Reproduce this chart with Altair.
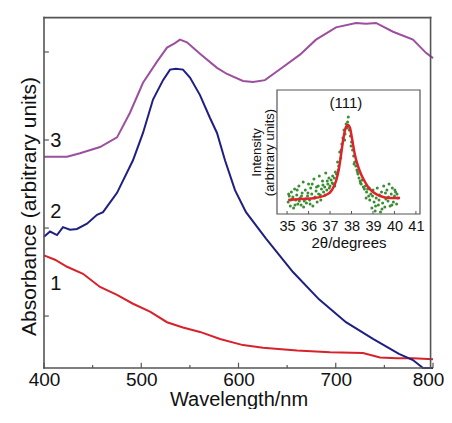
import altair as alt
import pandas as pd

FONT = "Liberation Sans"

# ---------------- main spectra (wavelength in nm, absorbance in arbitrary units) ----------------
wl_1 = [400, 411.3, 423.7, 440.1, 457.6, 475.1, 491.5, 509.0, 526.5, 542.9, 560.4, 581.0, 604.6, 625.2,
        660.2, 694.1, 728.0, 745.5, 763.0, 779.4, 800]
abs_1 = [0.69, 0.64, 0.56, 0.48, 0.33, 0.24, 0.14, 0.05, -0.07, -0.13, -0.18, -0.26, -0.33, -0.36,
         -0.39, -0.41, -0.42, -0.47, -0.48, -0.48, -0.49]

wl_2 = [400, 406.2, 413.4, 419.5, 426.7, 433.9, 444.2, 454.5, 460.7, 475.1, 491.5, 501.8, 512.1, 522.4,
        529.6, 535.7, 542.9, 550.1, 560.4, 570.7, 577.9, 586.1, 596.4, 607.7, 628.3, 656.0, 682.8, 710.5,
        738.3, 765.0, 779.4, 789.7, 800]
abs_2 = [0.90, 0.96, 0.92, 1.01, 0.98, 0.99, 1.05, 1.15, 1.18, 1.40, 1.77, 2.08, 2.46, 2.68,
         2.80, 2.81, 2.80, 2.71, 2.51, 2.25, 2.08, 1.77, 1.43, 1.18, 0.88, 0.50, 0.19, -0.07,
         -0.26, -0.43, -0.50, -0.59, -0.59]

wl_3 = [400, 423.7, 437.0, 457.6, 475.1, 488.4, 501.8, 516.2, 526.5, 534.7, 539.8, 547.0, 560.4, 577.9,
        588.2, 604.6, 614.9, 627.2, 645.8, 663.2, 679.7, 700.3, 720.8, 731.1, 741.4, 758.9, 779.4, 792.8, 800]
abs_3 = [1.81, 1.81, 1.85, 1.92, 2.03, 2.31, 2.65, 2.89, 3.05, 3.10, 3.14, 3.11, 2.98, 2.82,
         2.75, 2.67, 2.66, 2.68, 2.83, 2.97, 3.14, 3.28, 3.33, 3.32, 3.33, 3.23, 3.14, 2.99, 2.93]

curve_names = ["1", "2", "3"]
curve_colors = ["#d8222b", "#1f1f82", "#9c4f9e"]
label_wl = [406.5, 406.5, 406.5]
label_abs = [0.36, 1.18, 1.99]

x_domain = [400, 800]
y_domain = [-0.59, 3.42]
x_major = [400, 500, 600, 700, 800]
x_minor = [450, 550, 650, 750]
y_ticks = [0, 1, 2, 3]
frame_x = [400, 797.5]
frame_y = [-0.59, 3.39]

# ---------------- inset: XRD (111) reflection ----------------
fit_2theta = [35.05, 35.6, 36.3, 36.81, 37.09, 37.28, 37.42, 37.51, 37.65, 37.74, 37.84, 37.93, 38.02,
              38.16, 38.3, 38.44, 38.63, 38.81, 39.0, 39.33, 39.79, 40.26]
fit_int = [14, 15, 16, 19, 24, 33, 46, 59, 79, 87, 89, 86, 76, 59, 48, 40, 32, 26, 22, 18, 16, 16]

pts_2theta_left = [35.05, 35.1, 35.15, 35.2, 35.25, 35.3, 35.35, 35.4, 35.45, 35.5, 35.55, 35.6, 35.65, 35.7,
                   35.75, 35.8, 35.85, 35.9, 35.95, 36.0, 36.05, 36.1, 36.15, 36.2, 36.25, 36.3, 36.35, 36.4,
                   36.45, 36.5, 36.55, 36.6, 36.65, 36.7, 36.75, 36.8, 36.85, 36.9, 36.95, 37.0, 37.05, 37.1,
                   35.07, 35.17, 35.27, 35.37, 35.47, 35.57, 35.67, 35.77, 35.87, 35.97, 36.07, 36.17, 36.27,
                   36.37, 36.47, 36.57, 36.67, 36.77, 36.87, 36.97, 37.12]
pts_int_left = [12, 18, 8, 22, 15, 6, 25, 14, 19, 10, 28, 16, 9, 21, 32, 13, 24, 11, 18, 30, 14, 26, 20, 8,
                35, 17, 23, 12, 28, 38, 19, 25, 33, 22, 27, 41, 24, 30, 36, 28, 34, 31,
                20, 14, 17, 9, 24, 13, 18, 7, 15, 21, 10, 30, 16, 27, 20, 14, 29, 19, 33, 26, 38]
pts_2theta_peak = [37.15, 37.2, 37.25, 37.3, 37.35, 37.4, 37.45, 37.5, 37.55, 37.6, 37.65, 37.7, 37.75, 37.8,
                   37.85, 37.9, 37.95, 38.0, 38.05, 38.1, 38.15, 38.2, 38.25, 38.3, 38.35, 38.4, 38.45, 38.5,
                   38.55, 38.6, 37.22, 37.38, 37.52, 37.68, 37.82, 37.84, 37.98, 38.12, 38.28, 38.42]
pts_int_peak = [30, 36, 42, 40, 52, 48, 62, 56, 70, 76, 84, 80, 90, 86, 97, 84, 78, 72, 64, 58, 52, 48, 44,
                40, 36, 33, 30, 34, 27, 25, 28, 44, 64, 74, 92, 88, 68, 50, 42, 31]
pts_2theta_right = [38.65, 38.7, 38.75, 38.8, 38.85, 38.9, 38.95, 39.0, 39.05, 39.1, 39.15, 39.2, 39.25, 39.3,
                    39.35, 39.4, 39.45, 39.5, 39.55, 39.6, 39.65, 39.7, 39.75, 39.8, 39.85, 39.9, 39.95, 40.0,
                    40.05, 40.1, 40.15, 38.68, 38.82, 38.98, 39.12, 39.28, 39.42, 39.58, 39.72, 39.88, 40.02,
                    40.12]
pts_int_right = [28, 22, 25, 18, 14, 20, 6, 24, 12, 3, 16, 26, 9, 19, 2, 22, 11, 28, 7, 15, 24, 13, 30, 8,
                 20, 26, 12, 18, 22, 10, 16, 16, 26, 18, 8, 14, 5, 21, 17, 9, 24, 20]

inset_x_domain = [34.53, 41.19]
inset_y_domain = [0, 124]
inset_x_range = [233, 376]   # pixel span of the inset inside the plot area
inset_y_range = [199, 75]
inset_ticks = [35, 36, 37, 38, 39, 40, 41]
inset_peak_label = "(111)"
inset_peak_pos = [37.74, 111]

# ---------------- tables ----------------
main_df = pd.concat([
    pd.DataFrame({"wl": wl_1, "a": abs_1, "curve": "1"}),
    pd.DataFrame({"wl": wl_2, "a": abs_2, "curve": "2"}),
    pd.DataFrame({"wl": wl_3, "a": abs_3, "curve": "3"}),
])
lab_df = pd.DataFrame({"wl": label_wl, "a": label_abs, "t": curve_names})
pts_df = pd.DataFrame({"t": pts_2theta_left + pts_2theta_peak + pts_2theta_right,
                       "i": pts_int_left + pts_int_peak + pts_int_right})
fit_df = pd.DataFrame({"t": fit_2theta, "i": fit_int})


def xs():
    return alt.Scale(domain=x_domain, nice=False, zero=False)


def ys():
    return alt.Scale(domain=y_domain, nice=False, zero=False)


def ixs():
    return alt.Scale(domain=inset_x_domain, range=inset_x_range, nice=False, zero=False)


def iys():
    return alt.Scale(domain=inset_y_domain, range=inset_y_range, nice=False, zero=False)


AX = "#555555"

# frame of the main plot, as four edges
edges_df = pd.DataFrame({
    "x1": [frame_x[0], frame_x[0], frame_x[1], frame_x[0]],
    "x2": [frame_x[1], frame_x[1], frame_x[1], frame_x[0]],
    "y1": [frame_y[0], frame_y[1], frame_y[0], frame_y[0]],
    "y2": [frame_y[0], frame_y[1], frame_y[1], frame_y[1]],
})
frame = alt.Chart(edges_df).mark_rule(color=AX, strokeWidth=1.6, strokeCap="square").encode(
    x=alt.X("x1:Q", scale=xs(), axis=None), x2="x2:Q",
    y=alt.Y("y1:Q", scale=ys(), axis=None), y2="y2:Q",
)

lines = alt.Chart(main_df).mark_line(strokeWidth=2).encode(
    x=alt.X("wl:Q", scale=xs(), axis=alt.Axis(
        orient="bottom", values=x_major, ticks=False, domain=False, grid=False, labelFlush=False,
        labelFontSize=19, labelPadding=2,
        labelOffset={"condition": {"test": "datum.value >= 800", "value": -5}, "value": 0},
        title="Wavelength/nm", titleFontSize=20, titlePadding=0)),
    y=alt.Y("a:Q", scale=ys(), axis=alt.Axis(orient="left", labels=False, ticks=False, domain=False, grid=False,
                                              title="Absorbance (arbitrary units)", titleFontSize=21,
                                              titlePadding=5, titleY=191)),
    color=alt.Color("curve:N", scale=alt.Scale(domain=curve_names, range=curve_colors), legend=None),
    detail="curve:N",
)

tick_major = alt.Chart(pd.DataFrame({"wl": x_major})).mark_rule(color=AX, strokeWidth=1.2).encode(
    x=alt.X("wl:Q", scale=xs(), axis=None),
    y=alt.datum(y_domain[0], scale=ys(), axis=None), y2=alt.datum(y_domain[0] + 0.06),
)
tick_minor = alt.Chart(pd.DataFrame({"wl": x_minor})).mark_rule(color=AX, strokeWidth=1.2).encode(
    x=alt.X("wl:Q", scale=xs(), axis=None),
    y=alt.datum(y_domain[0], scale=ys(), axis=None), y2=alt.datum(y_domain[0] + 0.035),
)
tick_y = alt.Chart(pd.DataFrame({"a": y_ticks})).mark_rule(color=AX, strokeWidth=1.2).encode(
    y=alt.Y("a:Q", scale=ys(), axis=None),
    x=alt.datum(x_domain[0], scale=xs(), axis=None), x2=alt.datum(x_domain[0] + 5),
)
labels = alt.Chart(lab_df).mark_text(align="left", baseline="middle", fontSize=20, font=FONT,
                                     color="#111").encode(
    x=alt.X("wl:Q", scale=xs(), axis=None), y=alt.Y("a:Q", scale=ys(), axis=None), text="t:N")

box_df = pd.DataFrame({"x1": [inset_x_domain[0]], "x2": [inset_x_domain[1]],
                       "y1": [inset_y_domain[0]], "y2": [inset_y_domain[1]]})
box = alt.Chart(box_df).mark_rect(fill="white", stroke=AX, strokeWidth=1.2).encode(
    x=alt.X("x1:Q", scale=ixs(), axis=alt.Axis(orient="bottom", offset=-154, values=inset_ticks, ticks=False,
                                                domain=False, grid=False, labelFlush=False, labelOverlap=False,
                                                labelFontSize=14.5, labelPadding=5, title="2θ/degrees",
                                                titleFontSize=15, titlePadding=3)),
    x2="x2:Q",
    y=alt.Y("y1:Q", scale=iys(), axis=alt.Axis(orient="left", offset=-233, labels=False, ticks=False,
                                                domain=False, grid=False,
                                                title=["Intensity", "(arbitrary units)"], titleFontSize=13,
                                                titleLineHeight=12.5, titlePadding=1)),
    y2="y2:Q",
)
inset_tick = alt.Chart(pd.DataFrame({"t": inset_ticks})).mark_rule(color=AX, strokeWidth=1).encode(
    x=alt.X("t:Q", scale=ixs(), axis=None),
    y=alt.datum(inset_y_domain[0], scale=iys(), axis=None), y2=alt.datum(inset_y_domain[0] + 3),
)
pts = alt.Chart(pts_df).mark_circle(size=9, color="#3a8d33", opacity=1).encode(
    x=alt.X("t:Q", scale=ixs(), axis=None), y=alt.Y("i:Q", scale=iys(), axis=None))
fit = alt.Chart(fit_df).mark_line(color="#e0222a", strokeWidth=2.5, interpolate="monotone").encode(
    x=alt.X("t:Q", scale=ixs(), axis=None), y=alt.Y("i:Q", scale=iys(), axis=None))
peak_txt = alt.Chart(pd.DataFrame({"t": [inset_peak_pos[0]], "i": [inset_peak_pos[1]],
                                   "s": [inset_peak_label]})).mark_text(
    fontSize=15, font=FONT, color="#111", baseline="middle").encode(
    x=alt.X("t:Q", scale=ixs(), axis=None), y=alt.Y("i:Q", scale=iys(), axis=None), text="s:N")

chart = alt.layer(
    lines, tick_major, tick_minor, tick_y, labels, box, inset_tick, pts, fit, peak_txt, frame
).resolve_scale(x="independent", y="independent").properties(
    width=389, height=353,
    padding={"left": 36, "top": 7, "right": 11, "bottom": 41},
    autosize=alt.AutoSizeParams(type="none"),
).configure_view(stroke=None).configure_axis(
    labelFont=FONT, titleFont=FONT, labelColor="#111", titleColor="#111", titleFontWeight="normal"
)

chart.save("out.html", embed_options={"renderer": "svg", "actions": False})
